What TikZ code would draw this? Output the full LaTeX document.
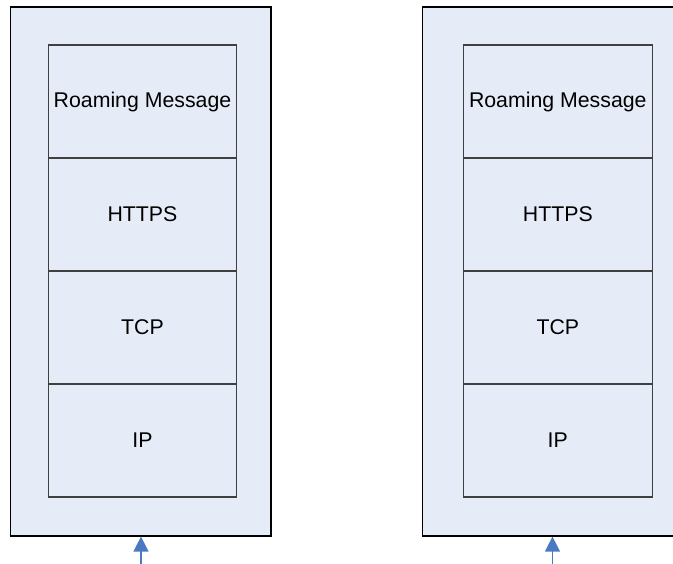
\documentclass[tikz,border=0pt]{standalone}
\usepackage{fontspec}
\setmainfont{Liberation Sans}
\usetikzlibrary{arrows.meta}
\definecolor{panelfill}{HTML}{E6ECF7}
\definecolor{arrowblue}{HTML}{4A78C2}
\tikzset{
  outerbox/.style={draw=black, line width=1.2pt, fill=panelfill, rectangle, inner sep=0pt},
  layerbox/.style={draw=black!75, line width=1.1pt, fill=panelfill, rectangle, inner sep=0pt,
     minimum width=188.5pt, minimum height=113pt, font=\fontsize{21.3}{24}\selectfont},
  uparrow/.style={draw=arrowblue, line width=1.4pt, -{Triangle[width=15pt,length=15pt]}}
}
\begin{document}
\begin{tikzpicture}[x=1pt,y=-1pt]
\useasboundingbox (0,0) rectangle (673,564);
\clip (0,0) rectangle (673,564);
% left stack
\node[outerbox, minimum width=260.5pt, minimum height=529pt] (L) at (140.75,271.5) {};
\node[layerbox] (L1) at (142.5,101.5) {Roaming Message};
\node[layerbox] (L2) at (142.5,214.5) {HTTPS};
\node[layerbox] (L3) at (142.5,327.5) {TCP};
\node[layerbox] (L4) at (142.5,440.5) {IP};
% right stack
\node[outerbox, minimum width=262pt, minimum height=529pt] (R) at (553.5,271.5) {};
\node[layerbox] (R1) at (557.8,101.5) {Roaming Message};
\node[layerbox] (R2) at (557.8,214.5) {HTTPS};
\node[layerbox] (R3) at (557.8,327.5) {TCP};
\node[layerbox] (R4) at (557.8,440.5) {IP};
% arrows
\coordinate (la) at (141,566);
\coordinate (ra) at (552.5,566);
\draw[uparrow] (la) -- (la |- L.south);
\draw[uparrow] (ra) -- (ra |- R.south);
\end{tikzpicture}
\end{document}
